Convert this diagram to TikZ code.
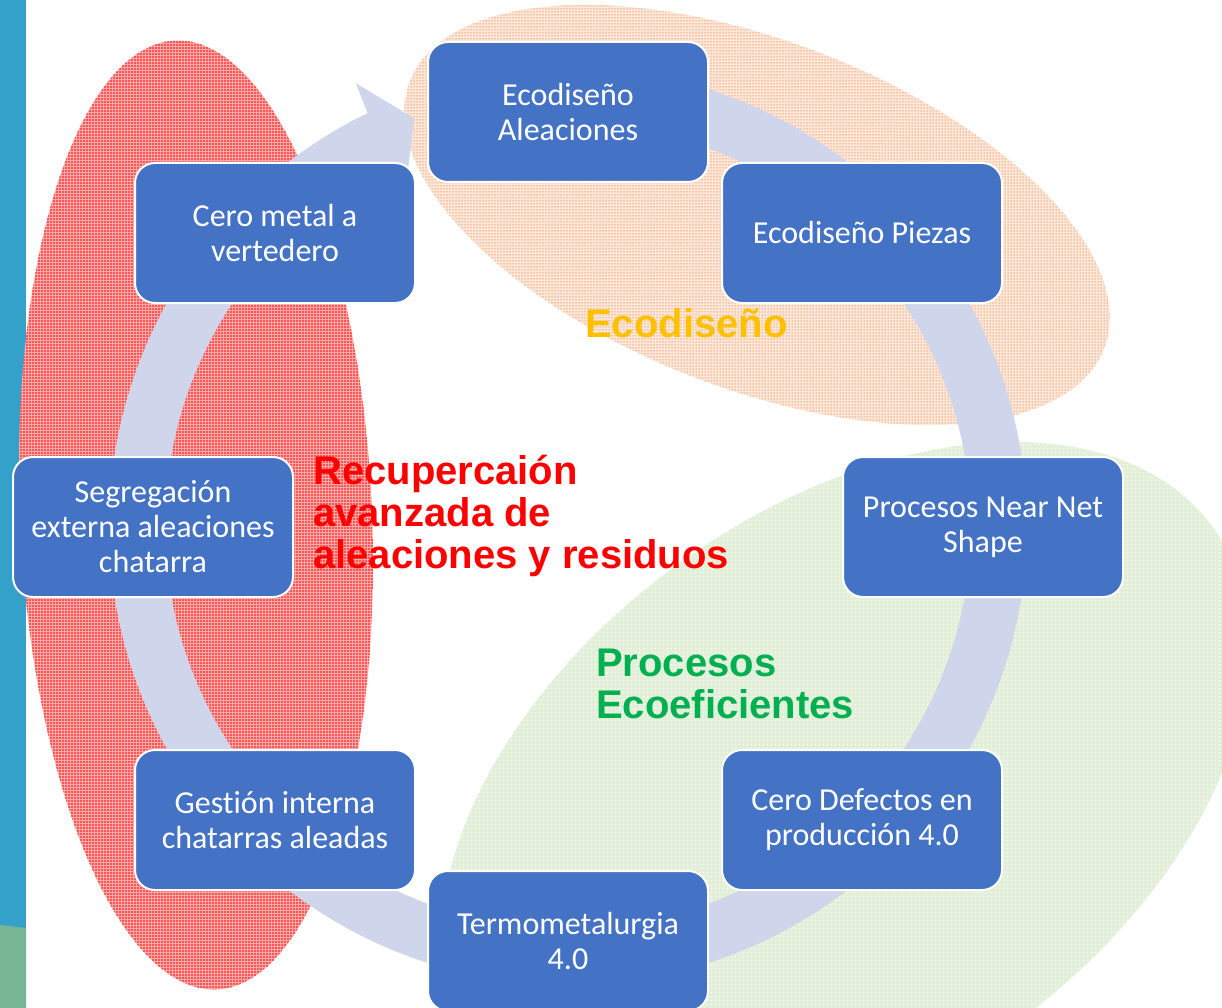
\documentclass[tikz,border=0pt]{standalone}
\usepackage{fontspec}
\setmainfont{Carlito}[Ligatures=NoCommon]
\newfontfamily\labelfont{Liberation Sans}
\usetikzlibrary{patterns.meta}
\definecolor{boxblue}{HTML}{4472C4}
\definecolor{ringc}{HTML}{CFD5EA}
\definecolor{stripblue}{HTML}{33A1C9}
\definecolor{stripgreen}{HTML}{76B695}
\definecolor{ecoorange}{HTML}{FFC000}
\definecolor{procgreen}{HTML}{00B050}
\definecolor{redbase}{HTML}{FFA8A8}
\definecolor{orbase}{HTML}{FCE8DA}
\definecolor{ordot}{HTML}{F2A06A}
\definecolor{grbase}{HTML}{E2EFD9}
\begin{document}
\begin{tikzpicture}[x=1pt,y=-1pt,
  cyclebox/.style={rectangle, rounded corners=20pt, fill=boxblue, draw=white, line width=2pt,
    minimum width=280pt, minimum height=140pt, text=white, align=center,
    font=\fontsize{32}{35}\selectfont, inner sep=4pt},
  biglabel/.style={font=\labelfont\bfseries\fontsize{40}{42}\selectfont, align=left, anchor=west, inner sep=0pt},
  redzone/.style={preaction={fill=redbase}, pattern={Dots[distance=3pt, radius=0.8pt]}, pattern color=red},
  orangezone/.style={preaction={fill=orbase}, pattern={Dots[distance=3pt, radius=0.75pt]}, pattern color=ordot},
  greenzone/.style={preaction={fill=grbase}, pattern={Dots[distance=4pt, radius=0.8pt]}, pattern color=white},
  ringband/.style={fill=ringc}]
\useasboundingbox (0,0) rectangle (1222,1008);
\clip (0,0) rectangle (1222,1008);
\fill[white] (0,0) rectangle (1222,1008);
% left strip
\fill[stripblue] (0,0) rectangle (26,1008);
\fill[stripgreen] (0,925) -- (26,928) -- (26,1008) -- (0,1008) -- cycle;
% zones
\path[redzone] plot[domain=0:360, samples=144]
  ({196+176*cos(\x)*cos(-2.5)-475*sin(\x)*sin(-2.5)},{515+176*cos(\x)*sin(-2.5)+475*sin(\x)*cos(-2.5)}) -- cycle;
\path[orangezone] plot[domain=0:360, samples=144]
  ({757+372*cos(\x)*cos(21)-174*sin(\x)*sin(21)},{215+372*cos(\x)*sin(21)+174*sin(\x)*cos(21)}) -- cycle;
\path[greenzone] plot[domain=0:360, samples=144]
  ({845+455*cos(\x)*cos(-36)-285*sin(\x)*sin(-36)},{795+455*cos(\x)*sin(-36)+285*sin(\x)*cos(-36)}) -- cycle;
% circular arrow
\fill[ringband] plot[domain=-95:244.1, samples=160] ({568+459*cos(\x)},{526+459*sin(\x)})
  -- ({568+491*cos(244.4)},{526+491*sin(244.4)})
  -- ({568+436*cos(249.3)},{526+436*sin(249.3)})
  -- ({568+375*cos(244.4)},{526+375*sin(244.4)})
  -- plot[domain=244.1:-95, samples=160] ({568+403*cos(\x)},{526+403*sin(\x)}) -- cycle;
% boxes
\node[cyclebox] (alea) at (568,112) {Ecodiseño\\Aleaciones};
\node[cyclebox] (piezas) at (862,233) {Ecodiseño Piezas};
\node[cyclebox] (nns) at (983,527) {Procesos Near Net\\Shape};
\node[cyclebox] (defectos) at (862,820) {Cero Defectos en\\producción 4.0};
\node[cyclebox] (termo) at (568,941) {Termometalurgia\\4.0};
\node[cyclebox] (gestion) at (275,820) {Gestión interna\\chatarras aleadas};
\node[cyclebox] (segreg) at (153,527) {Segregación\\externa aleaciones\\chatarra};
\node[cyclebox] (vertedero) at (275,233) {Cero metal a\\vertedero};
% labels
\node[biglabel, text=ecoorange] (lecodis) at (585,323) {Ecodiseño};
\node[biglabel, text=red] (lrecup) at (313,516) {Recupercaión\\avanzada de\\aleaciones y residuos};
\node[biglabel, text=procgreen] (lproc) at (596,684) {Procesos\\Ecoeficientes};
\end{tikzpicture}
\end{document}
